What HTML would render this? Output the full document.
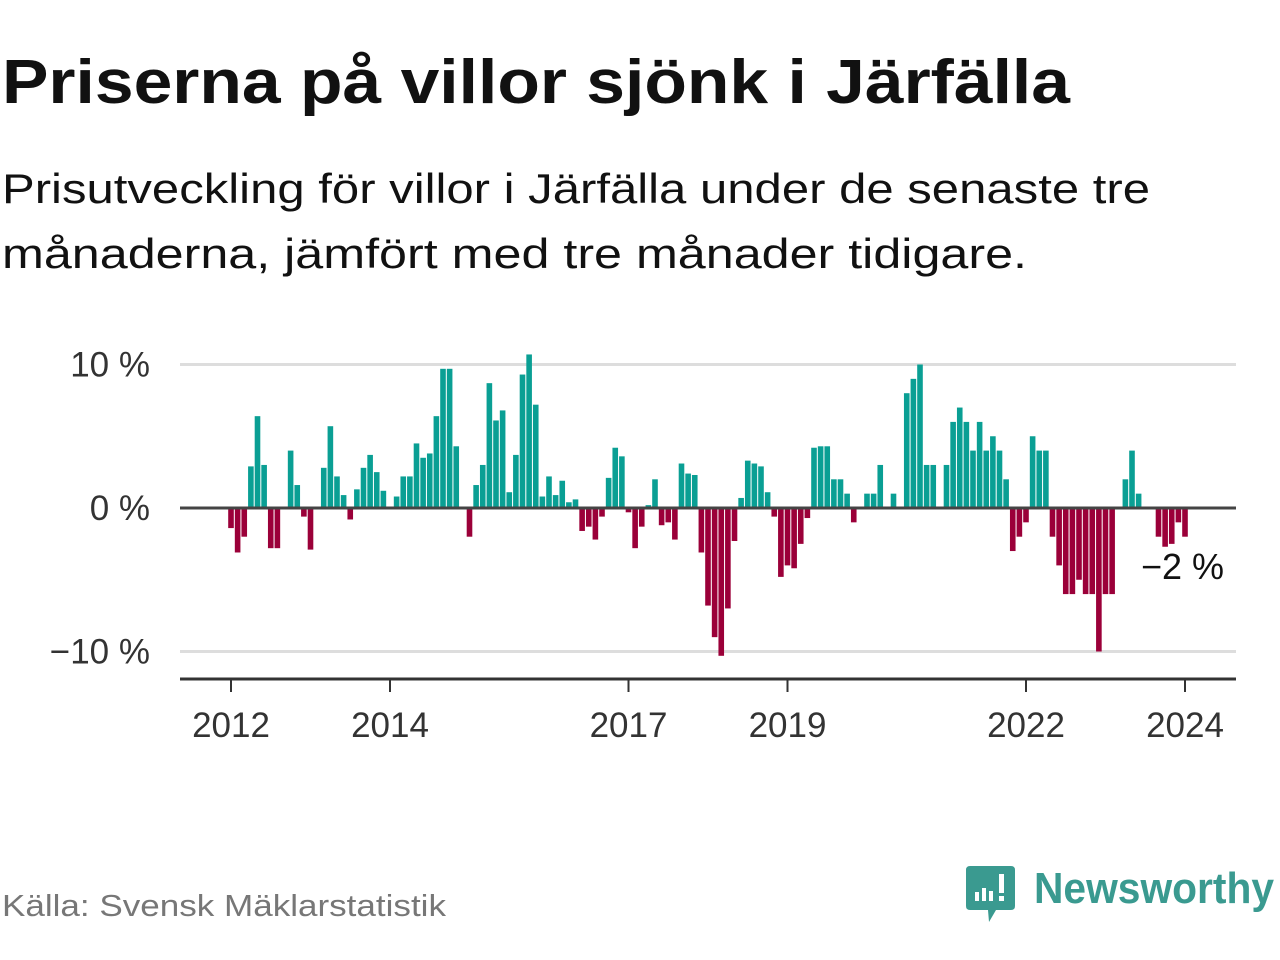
<!DOCTYPE html>
<html><head><meta charset="utf-8"><style>
body{margin:0;background:#fff;}
svg{display:block;font-family:"Liberation Sans",sans-serif;}
</style></head><body>
<svg width="1280" height="960" viewBox="0 0 1280 960">
<text x="2" y="103" font-size="62" font-weight="bold" fill="#111" textLength="1068" lengthAdjust="spacingAndGlyphs">Priserna på villor sjönk i Järfälla</text>
<text x="2" y="203" font-size="42" fill="#111" textLength="1148" lengthAdjust="spacingAndGlyphs">Prisutveckling för villor i Järfälla under de senaste tre</text>
<text x="2" y="268" font-size="42" fill="#111" textLength="1025" lengthAdjust="spacingAndGlyphs">månaderna, jämfört med tre månader tidigare.</text>
<g id="plot"></g>
<text x="2" y="916" font-size="31" fill="#777" textLength="444" lengthAdjust="spacingAndGlyphs">Källa: Svensk Mäklarstatistik</text>
<g>
<path d="M970 866 H1011 Q1015 866 1015 870 V906 Q1015 910 1011 910 H996 L989 922 L988 910 H970 Q966 910 966 906 V870 Q966 866 970 866 Z" fill="#3a9a90"/>
<rect x="975" y="892" width="4" height="9" fill="#fff"/>
<rect x="982" y="888" width="4" height="13" fill="#fff"/>
<rect x="989" y="891" width="4" height="10" fill="#fff"/>
<rect x="999" y="874" width="5" height="19" fill="#fff"/>
<rect x="999" y="896" width="5" height="5" fill="#fff"/>
<text x="1034" y="903" font-size="44" font-weight="bold" fill="#3a9a90" textLength="240" lengthAdjust="spacingAndGlyphs">Newsworthy</text>
</g>
</svg>
<script>
const values = [-1.4,-3.1,-2,2.9,6.4,3,-2.8,-2.8,0,4,1.6,-0.6,-2.9,0,2.8,5.7,2.2,0.9,-0.8,1.3,2.8,3.7,2.5,1.2,0,0.8,2.2,2.2,4.5,3.5,3.8,6.4,9.7,9.7,4.3,0.1,-2,1.6,3,8.7,6.1,6.8,1.1,3.7,9.3,10.7,7.2,0.8,2.2,0.9,1.9,0.4,0.6,-1.6,-1.3,-2.2,-0.6,2.1,4.2,3.6,-0.3,-2.8,-1.3,0.2,2,-1.2,-1,-2.2,3.1,2.4,2.3,-3.1,-6.8,-9,-10.3,-7,-2.3,0.7,3.3,3.1,2.9,1.1,-0.6,-4.8,-4,-4.2,-2.5,-0.7,4.2,4.3,4.3,2,2,1,-1,0,1,1,3,0,1,0,8,9,10,3,3,0,3,6,7,6,4,6,4,5,4,2,-3,-2,-1,5,4,4,-2,-4,-6,-6,-5,-6,-6,-10,-6,-6,0,2,4,1,0,0,-2,-2.7,-2.5,-1,-2];
const yTicks = [10,0,-10];
const yTickLabels = ["10 %","0 %","\u221210 %"];
const yearTicks = [2012,2014,2017,2019,2022,2024];
const startYear = 2012;
const lastLabel = "\u22122 %";

const NS="http://www.w3.org/2000/svg";
const g=document.getElementById('plot');
const x0=231, monthW=6.625, y0=508, pxPer=14.35;
const xScale=i=>x0+i*monthW;
const yScale=v=>y0-v*pxPer;
function mk(t,a){const e=document.createElementNS(NS,t);for(const k in a)e.setAttribute(k,a[k]);g.appendChild(e);return e;}

yTicks.forEach((v,k)=>{
  if(v!==0){const l=mk('line',{x1:180,x2:1236,y1:yScale(v),y2:yScale(v),stroke:'#ddd','stroke-width':3});
  
  }
  const t=mk('text',{x:150,y:yScale(v)+12,'font-size':35,fill:'#333','text-anchor':'end'});
  t.textContent=yTickLabels[k];
  
  
});
values.forEach((v,i)=>{
  if(v===0)return;
  const y=yScale(Math.max(v,0)), h=Math.abs(v)*pxPer;
  const r=mk('rect',{x:xScale(i)-2.8,y:y,width:5.6,height:h,fill:v>0?'#0a9f94':'#9b0039'});
  
  
});
const z=mk('line',{x1:180,x2:1236,y1:y0,y2:y0,stroke:'#444','stroke-width':3});


const ax=mk('line',{x1:180,x2:1236,y1:679,y2:679,stroke:'#333','stroke-width':3});


yearTicks.forEach(yr=>{
  const x=xScale((yr-startYear)*12);
  const tk=mk('line',{x1:x,x2:x,y1:679,y2:692,stroke:'#333','stroke-width':2});
  
  
  const t=mk('text',{x:x,y:737,'font-size':35,fill:'#333','text-anchor':'middle'});
  t.textContent=yr;
  
  
});
const an=mk('text',{x:1224,y:579,'font-size':36,fill:'#111','text-anchor':'end'});
an.textContent=lastLabel;


</script>
</body></html>
